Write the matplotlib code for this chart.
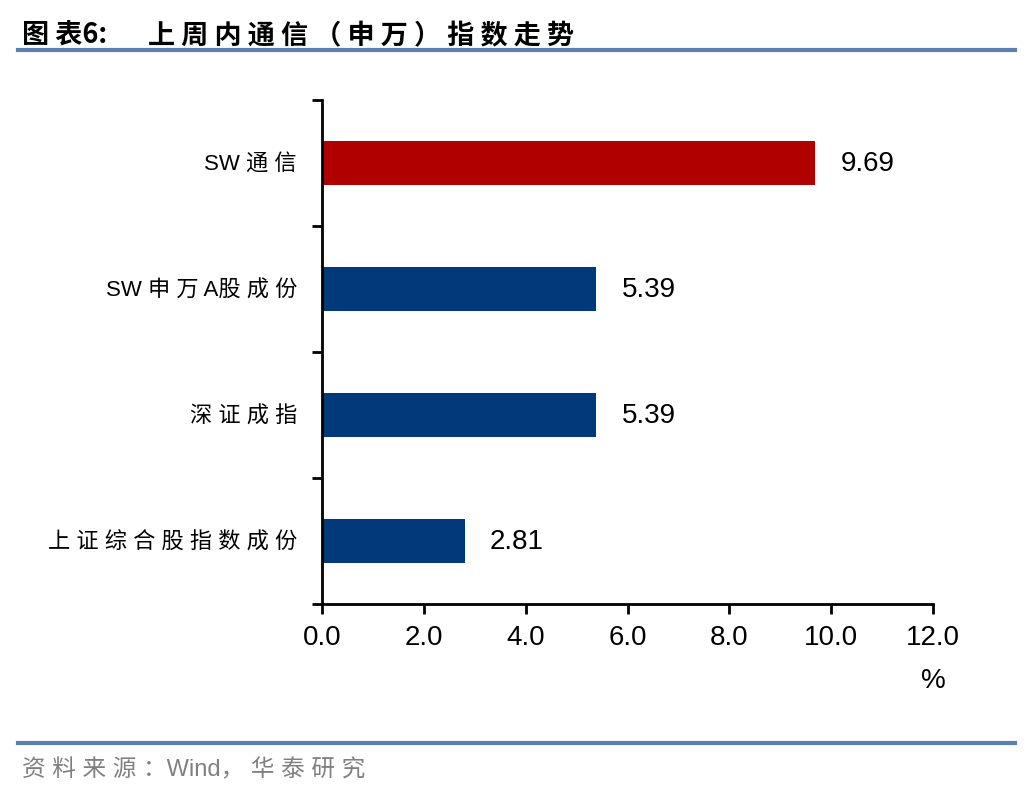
import matplotlib
matplotlib.use("Agg")
import matplotlib.pyplot as plt
from matplotlib.lines import Line2D

categories = ["SW通信", "SW申万A股成份", "深证成指", "上证综合股指数成份"]
values = [9.69, 5.39, 5.39, 2.81]
colors = ["#B00000", "#02397A", "#02397A", "#02397A"]
xticks = [0, 2, 4, 6, 8, 10, 12]
xtick_labels = ["0.0", "2.0", "4.0", "6.0", "8.0", "10.0", "12.0"]
title_prefix = "图表6:"
title_main = "上周内通信（申万）指数走势"
source = "资料来源：Wind，华泰研究"

cjk = ["Noto Sans CJK SC", "DejaVu Sans"]
num = ["Liberation Sans", "DejaVu Sans"]
mixed = ["Liberation Sans", "Noto Sans CJK SC", "DejaVu Sans"]


def is_cjk(ch):
    return ord(ch) > 0x2E80


def spaced(s, mixed_gap=False):
    # visual letter spacing between characters
    out = ""
    for i, ch in enumerate(s):
        out += ch
        if i == len(s) - 1:
            continue
        nxt = s[i + 1]
        if is_cjk(ch) and is_cjk(nxt):
            out += " "
        elif mixed_gap:
            if is_cjk(ch) and not is_cjk(nxt):
                out += " "
            elif (not is_cjk(ch)) and is_cjk(nxt) and i > 0 and not is_cjk(s[i - 1]):
                out += " "
    return out


fig = plt.figure(figsize=(10.36, 7.92), dpi=100)
ax = fig.add_axes([322/1036, 1-604/792, (933-322)/1036, (604-100)/792])

n = len(categories)
ypos = list(range(n-1, -1, -1))
ax.barh(ypos, values, height=0.35, color=colors)
ax.set_xlim(0, 12)
ax.set_ylim(-0.5, n-0.5)

ax.set_xticks(xticks)
ax.set_xticklabels(xtick_labels, fontfamily=num, fontsize=20)
ax.tick_params(axis="x", direction="out", length=7, width=2, pad=8)

ax.set_yticks(ypos)
ax.set_yticklabels([spaced(c, mixed_gap=True) for c in categories],
                   fontfamily=mixed, fontsize=16)
ax.tick_params(axis="y", which="major", length=0, pad=18)
ax.set_yticks([i-0.5 for i in range(n+1)], minor=True)
ax.tick_params(axis="y", which="minor", direction="out", length=7, width=2)

for s in ["top", "right"]:
    ax.spines[s].set_visible(False)
for s in ["left", "bottom"]:
    ax.spines[s].set_linewidth(2)

for y, v in zip(ypos, values):
    ax.annotate(f"{v:.2f}", xy=(v, y), xytext=(18, -1), textcoords="offset points",
                ha="left", va="center", fontsize=20, fontfamily=num)

ax.text(1.0, -0.152, "%", transform=ax.transAxes, ha="center", va="center",
        fontsize=20, fontfamily=num)

fig.text(22/1036, 1-36/792, spaced(title_prefix), fontfamily=cjk,
         fontsize=19.5, fontweight="bold", ha="left", va="center")
fig.text(148/1036, 1-36/792, spaced(title_main), fontfamily=cjk,
         fontsize=19.5, fontweight="bold", ha="left", va="center")
fig.add_artist(Line2D([18/1036, 1015/1036], [1-50/792, 1-50/792], color="#5B7FB0", lw=3))
fig.add_artist(Line2D([18/1036, 1015/1036], [1-743/792, 1-743/792], color="#5B7FB0", lw=3))
fig.text(22/1036, 1-770/792, spaced(source), fontfamily=mixed,
         fontsize=17, color="#808080", ha="left", va="center")

fig.savefig("out.png", dpi=100)
